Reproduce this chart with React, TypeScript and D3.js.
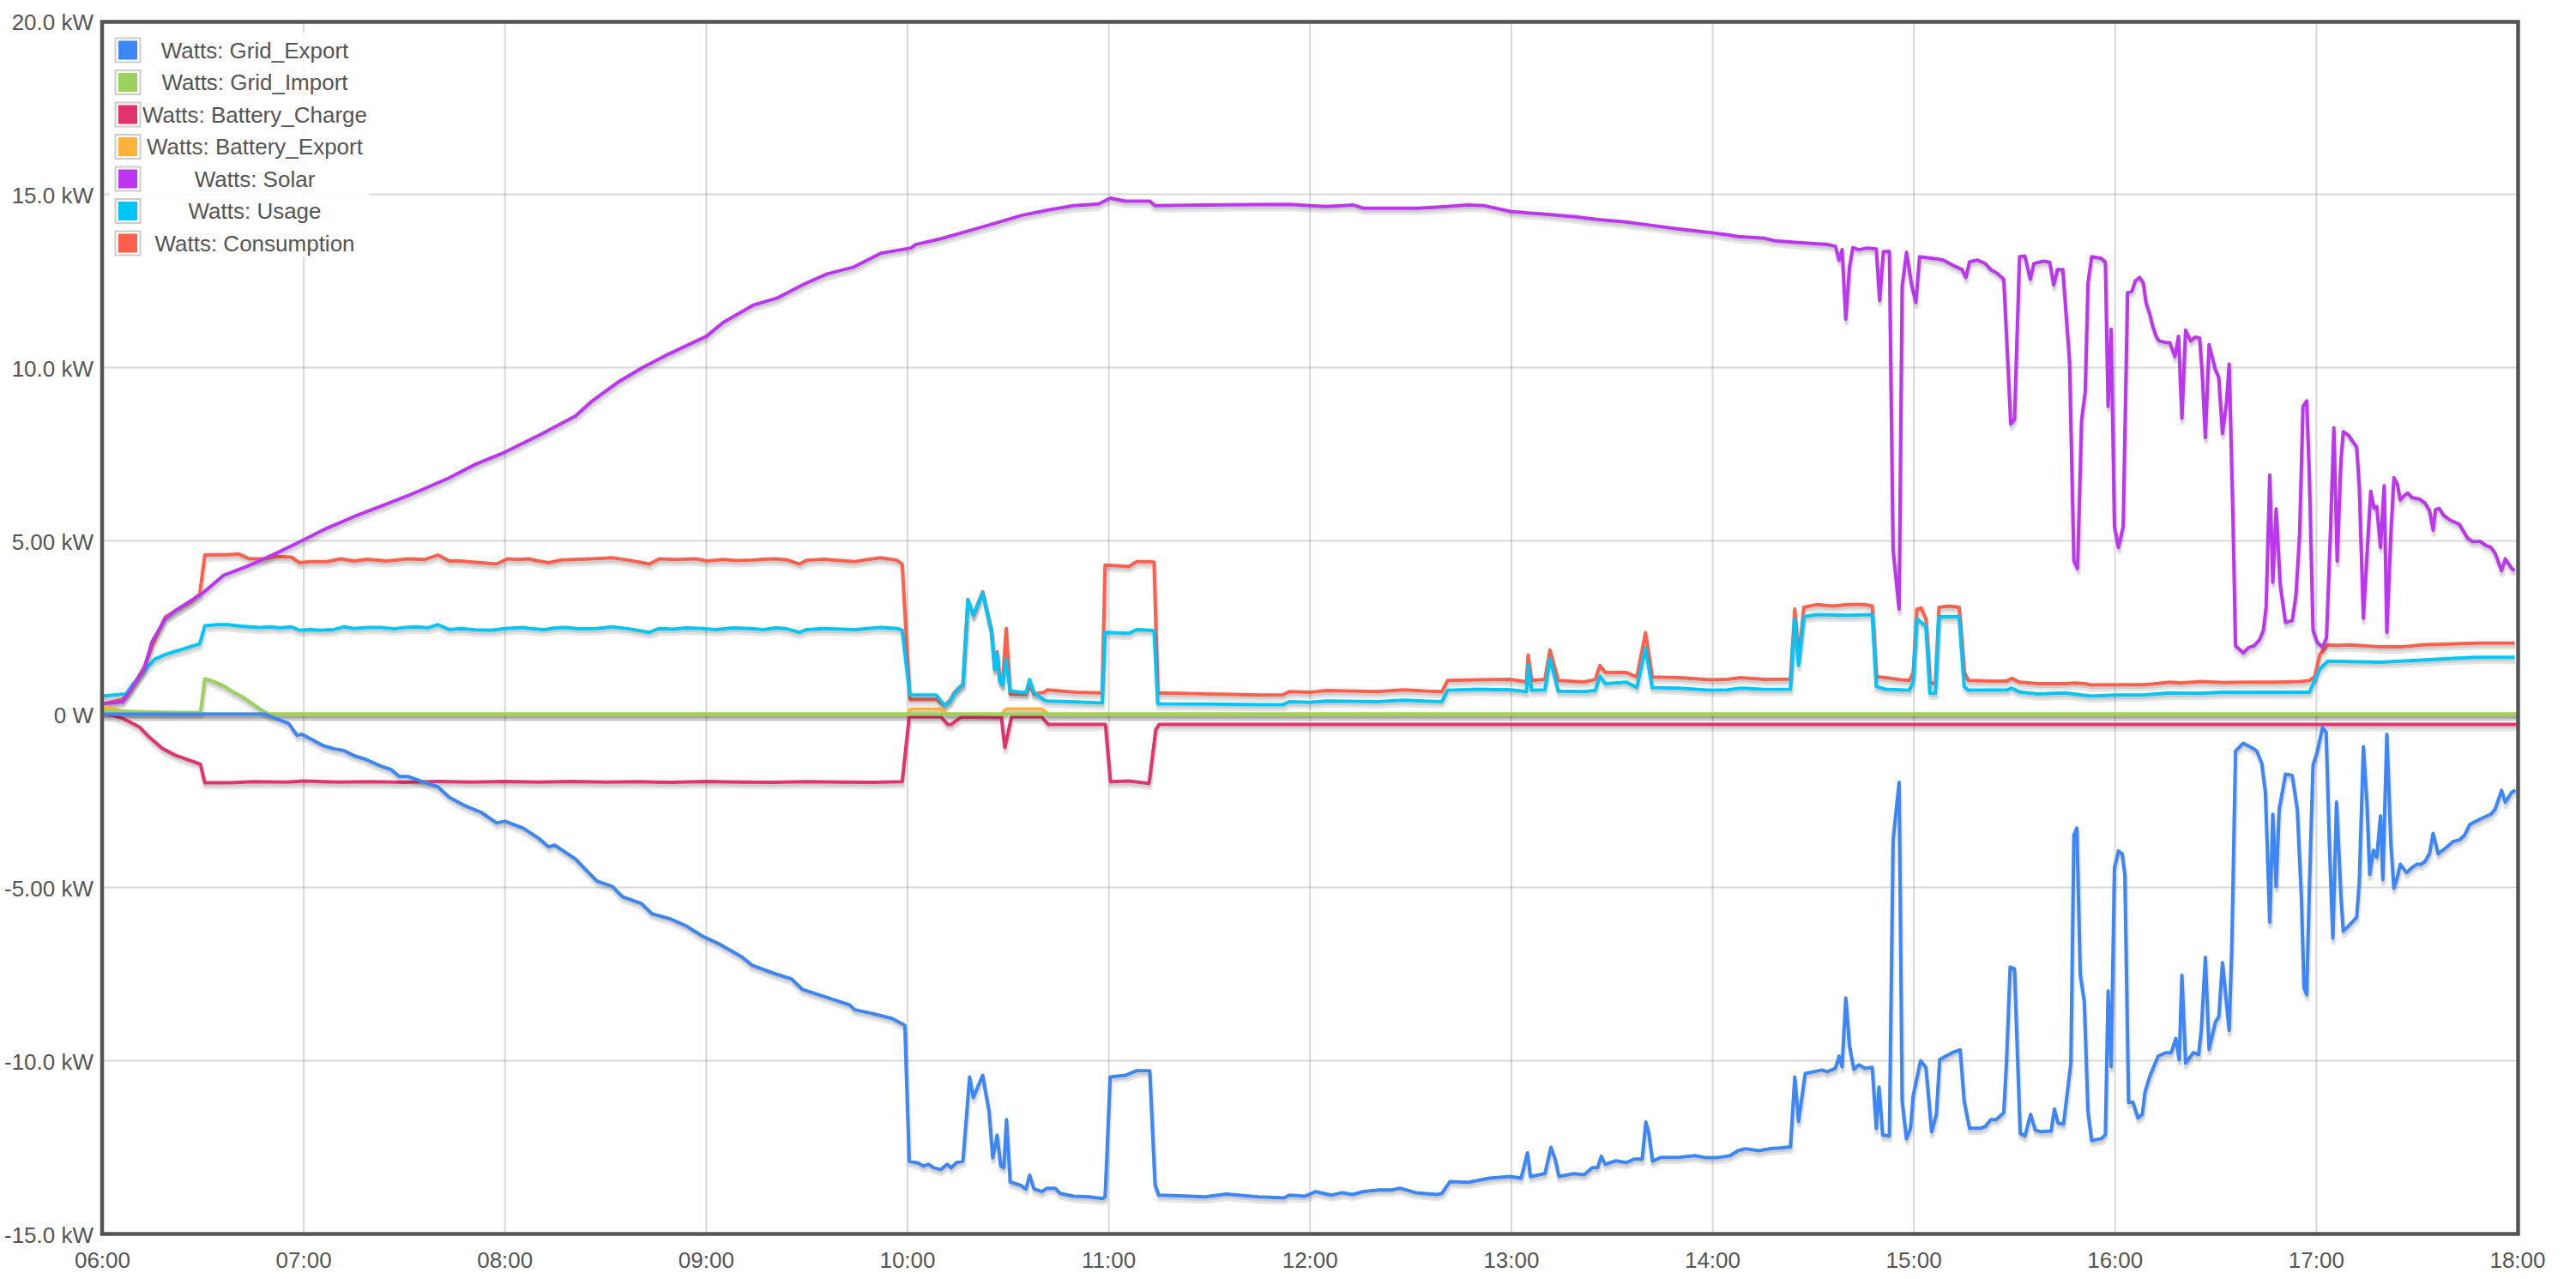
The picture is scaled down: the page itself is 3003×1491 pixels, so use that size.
import React from "react";
import * as d3 from "d3";

type Pt = [string, number];

const SERIES_NAMES = [
  "Watts: Grid_Export",
  "Watts: Grid_Import",
  "Watts: Battery_Charge",
  "Watts: Battery_Export",
  "Watts: Solar",
  "Watts: Usage",
  "Watts: Consumption",
];
const SERIES_COLORS = ["#3d86f8", "#9bd15d", "#e2336f", "#ffb23c", "#bc36f0", "#00c5f9", "#ff5f4c"];

const X_TICKS = ["06:00", "07:00", "08:00", "09:00", "10:00", "11:00", "12:00", "13:00", "14:00", "15:00", "16:00", "17:00", "18:00"];
const Y_TICKS = [-15, -10, -5, 0, 5, 10, 15, 20];
const Y_TICK_LABELS = ["-15.0 kW", "-10.0 kW", "-5.00 kW", "0 W", "5.00 kW", "10.0 kW", "15.0 kW", "20.0 kW"];

// values in kW, times "HH:MM(.m)"
const GRID_EXPORT: Pt[] = [
  ["06:00", 0], ["06:48.5", 0], ["06:51", -0.1], ["06:55.5", -0.27], ["06:58", -0.61], ["06:59.5", -0.58],
  ["07:05.8", -0.91], ["07:09", -1.0], ["07:12", -1.05], ["07:15", -1.2], ["07:18.3", -1.3], ["07:23", -1.5],
  ["07:26", -1.6], ["07:28.5", -1.8], ["07:31", -1.8], ["07:37", -2.0], ["07:40", -2.1], ["07:43.4", -2.4],
  ["07:48", -2.64], ["07:53", -2.84], ["07:57.5", -3.14], ["08:00", -3.09], ["08:05.4", -3.29], ["08:10", -3.58],
  ["08:13", -3.83], ["08:14.8", -3.78], ["08:21", -4.18], ["08:24", -4.48], ["08:27.4", -4.82], ["08:32", -4.97],
  ["08:35", -5.27], ["08:40.7", -5.47], ["08:43.8", -5.76], ["08:49.3", -5.91], ["08:54", -6.11], ["08:58.7", -6.4],
  ["09:04.2", -6.65], ["09:10.5", -7.0], ["09:13.7", -7.25], ["09:20.7", -7.5], ["09:25.4", -7.64], ["09:28.6", -7.94],
  ["09:36.4", -8.19], ["09:42.7", -8.39], ["09:44.3", -8.53], ["09:49", -8.63], ["09:55.3", -8.78], ["09:59.2", -8.98],
  ["10:00.5", -12.9], ["10:03.1", -12.95], ["10:04.7", -13.04], ["10:06.3", -12.99], ["10:07.8", -13.09], ["10:09.9", -13.14],
  ["10:11.8", -12.99], ["10:13", -13.09], ["10:14.6", -12.94], ["10:16.5", -12.9], ["10:18.5", -10.47], ["10:19.6", -11.06],
  ["10:22.4", -10.42], ["10:24.3", -11.46], ["10:25.4", -12.8], ["10:26.7", -12.15], ["10:27.8", -13.04], ["10:28.7", -13.09],
  ["10:29.5", -11.7], ["10:30.6", -13.5], ["10:33.8", -13.6], ["10:35.3", -13.7], ["10:36.4", -13.3], ["10:37.7", -13.7],
  ["10:40", -13.78], ["10:41.6", -13.68], ["10:44", -13.68], ["10:45.5", -13.83], ["10:49.5", -13.91], ["10:54.2", -13.93],
  ["10:58.1", -13.98], ["10:58.9", -13.93], ["11:00.4", -10.47], ["11:05.1", -10.42], ["11:08.3", -10.29], ["11:12.2", -10.29],
  ["11:13.8", -13.58], ["11:14.9", -13.88], ["11:20.8", -13.9], ["11:28.7", -13.93], ["11:35", -13.85], ["11:44.4", -13.93],
  ["11:52.2", -13.96], ["11:53.8", -13.88], ["11:58.5", -13.91], ["12:01.7", -13.78], ["12:06.4", -13.88], ["12:09.5", -13.81],
  ["12:12.7", -13.86], ["12:15.8", -13.78], ["12:20.5", -13.73], ["12:24.4", -13.73], ["12:26.8", -13.68], ["12:31.5", -13.81],
  ["12:37.8", -13.86], ["12:39.3", -13.83], ["12:41.7", -13.49], ["12:47.2", -13.51], ["12:53.5", -13.39], ["12:59.7", -13.34],
  ["13:02.9", -13.39], ["13:04.8", -12.66], ["13:05.7", -13.34], ["13:10", -13.26], ["13:11.8", -12.5], ["13:13.1", -12.85],
  ["13:14.2", -13.34], ["13:18.6", -13.26], ["13:21.7", -13.29], ["13:24.1", -13.09], ["13:25.7", -13.09], ["13:26.8", -12.76],
  ["13:28", -12.99], ["13:31.1", -12.89], ["13:34.3", -12.94], ["13:36.6", -12.84], ["13:39", -12.84], ["13:40.1", -11.77],
  ["13:40.9", -12.05], ["13:42.1", -12.9], ["13:44.5", -12.79], ["13:50", -12.79], ["13:54.7", -12.74], ["13:58.1", -12.8],
  ["14:01.3", -12.8], ["14:05.2", -12.74], ["14:07.5", -12.6], ["14:09.9", -12.54], ["14:13.8", -12.6], ["14:17", -12.54],
  ["14:20.1", -12.52], ["14:23.2", -12.49], ["14:24.5", -10.47], ["14:25.6", -11.75], ["14:27.6", -10.37], ["14:32.7", -10.27],
  ["14:34.2", -10.32], ["14:36.6", -10.22], ["14:37.7", -9.87], ["14:38.6", -10.17], ["14:39.7", -8.19], ["14:40.8", -9.57],
  ["14:42.1", -10.25], ["14:43.6", -10.12], ["14:45.5", -10.22], ["14:47.6", -10.19], ["14:48.8", -11.95], ["14:49.6", -10.76],
  ["14:50.7", -12.15], ["14:52.7", -12.17], ["14:53.8", -3.63], ["14:55.6", -1.97], ["14:56.5", -11.16], ["14:57.8", -12.25],
  ["14:59", -11.95], ["14:59.8", -11.0], ["15:02", -10.0], ["15:03.6", -10.2], ["15:05.3", -12.05], ["15:06.7", -11.55],
  ["15:07.7", -9.97], ["15:09.5", -9.87], ["15:11.9", -9.75], ["15:13.8", -9.69], ["15:15", -11.16], ["15:16.6", -11.95],
  ["15:19.7", -11.95], ["15:21.3", -11.9], ["15:22.9", -11.7], ["15:24.5", -11.7], ["15:26.8", -11.5], ["15:27.6", -10.07],
  ["15:28.7", -7.3], ["15:30", -7.35], ["15:31.7", -12.1], ["15:33.1", -12.17], ["15:34.8", -11.55], ["15:36.2", -12.0],
  ["15:37.8", -12.05], ["15:40.9", -12.03], ["15:41.9", -11.4], ["15:43", -11.8], ["15:44.6", -11.83], ["15:46.8", -10.07],
  ["15:47.7", -3.49], ["15:48.6", -3.29], ["15:49.6", -7.5], ["15:50.8", -8.29], ["15:51.9", -11.46], ["15:53", -12.3],
  ["15:55.9", -12.25], ["15:57.1", -12.13], ["15:57.9", -7.99], ["15:58.8", -10.17], ["15:59.8", -4.43], ["16:01", -3.95],
  ["16:02.1", -4.03], ["16:02.9", -4.62], ["16:04", -11.2], ["16:05.3", -11.2], ["16:06.8", -11.65], ["16:08.1", -11.55],
  ["16:08.9", -10.9], ["16:10.3", -10.46], ["16:12.8", -9.87], ["16:15.2", -9.77], ["16:16.7", -9.77], ["16:18.1", -9.36],
  ["16:19.1", -9.97], ["16:19.9", -7.54], ["16:21", -10.07], ["16:23.3", -9.77], ["16:24.9", -9.82], ["16:25.7", -9.08],
  ["16:26.9", -7.02], ["16:28", -9.67], ["16:29.9", -8.88], ["16:30.9", -8.73], ["16:32", -7.17], ["16:34", -9.13],
  ["16:34.8", -6.6], ["16:35.9", -1.06], ["16:38.2", -0.84], ["16:40.6", -0.96], ["16:42.2", -1.06], ["16:43.7", -1.41],
  ["16:44.8", -2.25], ["16:46.1", -6.0], ["16:47", -2.89], ["16:48", -4.97], ["16:48.9", -2.74], ["16:50.8", -1.73],
  ["16:52.8", -1.77], ["16:54.3", -2.74], ["16:55.5", -5.22], ["16:56.3", -7.9], ["16:57.1", -8.09], ["16:57.9", -5.02],
  ["16:59", -1.46], ["17:00.2", -1.11], ["17:01.8", -0.39], ["17:02.9", -0.52], ["17:03.8", -3.53], ["17:04.9", -6.46],
  ["17:06", -2.54], ["17:07.3", -5.22], ["17:08", -6.26], ["17:09.6", -6.11], ["17:12", -5.86], ["17:12.8", -4.82],
  ["17:14", -0.94], ["17:15.1", -2.64], ["17:15.9", -4.62], ["17:17", -3.93], ["17:18", -4.13], ["17:19.1", -2.94],
  ["17:19.8", -4.77], ["17:21", -0.58], ["17:22.2", -3.73], ["17:23.1", -5.02], ["17:24.1", -4.72], ["17:25", -4.33],
  ["17:26.9", -4.57], ["17:28.5", -4.43], ["17:30", -4.33], ["17:31.3", -4.33], ["17:32.4", -4.25], ["17:33.7", -4.03],
  ["17:34.8", -3.44], ["17:36.3", -4.03], ["17:38.7", -3.85], ["17:40.7", -3.68], ["17:42.6", -3.63], ["17:44.2", -3.49],
  ["17:45.7", -3.19], ["17:47.6", -3.09], ["17:49.7", -2.99], ["17:52", -2.89], ["17:53.3", -2.74], ["17:55.2", -2.2],
  ["17:56.3", -2.54], ["17:58.3", -2.25], ["17:59.4", -2.2],
];

const GRID_IMPORT: Pt[] = [
  ["06:00", 0.1], ["06:07", 0.08], ["06:14", 0.06], ["06:22", 0.05], ["06:29.2", 0.05], ["06:30.5", 1.02],
  ["06:33", 0.95], ["06:36", 0.82], ["06:39", 0.64], ["06:42", 0.48], ["06:45.4", 0.25], ["06:48", 0.08],
  ["06:50", 0], ["18:00", 0],
];

const BATTERY_CHARGE: Pt[] = [
  ["06:00", 0], ["06:03", -0.04], ["06:06", -0.12], ["06:11", -0.37], ["06:14", -0.67], ["06:18", -1.0],
  ["06:22", -1.2], ["06:28", -1.4], ["06:29.2", -1.45], ["06:30.5", -1.98], ["06:38", -1.98], ["06:45", -1.95],
  ["06:55", -1.96], ["07:00", -1.93], ["07:10", -1.96], ["07:20", -1.95], ["07:30", -1.97], ["07:40", -1.94],
  ["07:50", -1.96], ["08:00", -1.94], ["08:10", -1.96], ["08:20", -1.94], ["08:30", -1.96], ["08:40", -1.95],
  ["08:50", -1.97], ["09:00", -1.94], ["09:10", -1.96], ["09:20", -1.97], ["09:30", -1.95], ["09:40", -1.96],
  ["09:50", -1.97], ["09:58.4", -1.95], ["10:00.5", -0.08], ["10:10", -0.08], ["10:12", -0.3], ["10:13", -0.3],
  ["10:16", -0.08], ["10:28", -0.1], ["10:29", -0.96], ["10:31", -0.08], ["10:40", -0.08], ["10:42", -0.3],
  ["10:59", -0.3], ["11:00.5", -1.95], ["11:06", -1.93], ["11:12", -2.0], ["11:14", -0.45], ["11:15", -0.3],
  ["18:00", -0.3],
];

const BATTERY_EXPORT: Pt[] = [
  ["06:00", 0.22], ["06:04", 0.14], ["06:08", 0], ["10:00", 0], ["10:01", 0.15], ["10:10", 0.15], ["10:12", 0],
  ["10:28", 0], ["10:29.5", 0.15], ["10:40", 0.15], ["10:42", 0], ["18:00", 0],
];

const SOLAR: Pt[] = [
  ["06:00", 0.3], ["06:06", 0.35], ["06:08.5", 0.72], ["06:12.4", 1.3], ["06:14.8", 2.1], ["06:18.7", 2.75],
  ["06:22", 3.0], ["06:30", 3.5], ["06:36", 4.0], ["06:44", 4.3], ["06:52", 4.65], ["07:00", 5.03],
  ["07:07", 5.37], ["07:15", 5.7], ["07:23", 6.0], ["07:31", 6.3], ["07:43", 6.8], ["07:51", 7.2],
  ["08:00", 7.56], ["08:10", 8.04], ["08:21", 8.6], ["08:26", 9.04], ["08:34", 9.6], ["08:41", 10.0],
  ["08:49", 10.4], ["09:00", 10.9], ["09:05", 11.3], ["09:14", 11.8], ["09:21", 12.0], ["09:29", 12.4],
  ["09:36", 12.7], ["09:44", 12.9], ["09:52", 13.3], ["10:01", 13.45], ["10:02.4", 13.55], ["10:10", 13.72],
  ["10:18", 13.94], ["10:26", 14.16], ["10:34", 14.39], ["10:42", 14.55], ["10:49.5", 14.67], ["10:57", 14.72],
  ["11:00.4", 14.89], ["11:05", 14.8], ["11:12.2", 14.8], ["11:13.8", 14.67], ["11:28.7", 14.69], ["11:44", 14.7],
  ["11:53.8", 14.71], ["12:00", 14.67], ["12:05", 14.65], ["12:13", 14.69], ["12:15.8", 14.6], ["12:24", 14.6],
  ["12:32", 14.6], ["12:40", 14.64], ["12:47", 14.69], ["12:52", 14.67], ["13:00", 14.5], ["13:11", 14.42],
  ["13:19", 14.35], ["13:26", 14.27], ["13:34", 14.2], ["13:42", 14.1], ["13:50", 14.0], ["13:59", 13.9],
  ["14:04.4", 13.83], ["14:07.5", 13.78], ["14:10.7", 13.76], ["14:15.4", 13.73], ["14:18.5", 13.66], ["14:26.4", 13.6],
  ["14:34.2", 13.55], ["14:36.6", 13.5], ["14:37.7", 13.1], ["14:38.6", 13.4], ["14:39.7", 11.4], ["14:40.8", 12.9],
  ["14:41.8", 13.46], ["14:43.6", 13.4], ["14:46", 13.45], ["14:48.8", 13.42], ["14:49.8", 11.94], ["14:50.9", 13.35],
  ["14:52.7", 13.35], ["14:53.8", 4.75], ["14:55.6", 3.03], ["14:56.5", 12.33], ["14:57.8", 13.33], ["14:59.3", 12.4],
  ["15:00.6", 11.88], ["15:01.7", 13.2], ["15:04", 13.17], ["15:07.2", 13.13], ["15:08.8", 13.1], ["15:11.9", 12.94],
  ["15:14.3", 12.83], ["15:15.5", 12.6], ["15:16.6", 13.05], ["15:19", 13.1], ["15:21.3", 13.0], ["15:22.9", 12.83],
  ["15:24.8", 12.72], ["15:26.8", 12.55], ["15:28.9", 8.37], ["15:30", 8.5], ["15:31.5", 13.2], ["15:33.1", 13.22],
  ["15:34.7", 12.55], ["15:35.8", 13.0], ["15:38.6", 13.07], ["15:40.5", 13.04], ["15:41.7", 12.38], ["15:42.8", 12.83],
  ["15:44.4", 12.83], ["15:46.4", 10.21], ["15:47.7", 4.42], ["15:48.8", 4.2], ["15:50", 8.49], ["15:51.1", 9.32],
  ["15:51.9", 12.44], ["15:53", 13.2], ["15:55.9", 13.15], ["15:57.1", 13.04], ["15:57.9", 8.88], ["15:58.8", 11.1],
  ["15:59.8", 5.42], ["16:01", 4.81], ["16:02.4", 5.42], ["16:03.7", 12.16], ["16:05", 12.2], ["16:06", 12.5],
  ["16:07.3", 12.6], ["16:08.4", 12.44], ["16:09.2", 11.88], ["16:10.3", 11.55], ["16:11.2", 11.2], ["16:12.3", 10.88],
  ["16:13.1", 10.77], ["16:15.2", 10.72], ["16:16.3", 10.72], ["16:17.8", 10.32], ["16:18.9", 10.9], ["16:19.9", 8.54],
  ["16:21", 11.08], ["16:22.5", 10.77], ["16:23.8", 10.88], ["16:25.2", 10.85], ["16:26", 9.77], ["16:26.9", 7.98],
  ["16:28", 10.66], ["16:29.9", 9.94], ["16:30.9", 9.72], ["16:32", 8.1], ["16:33.2", 9.0], ["16:34", 10.1],
  ["16:35.1", 5.76], ["16:35.9", 1.97], ["16:38.2", 1.77], ["16:39.8", 1.92], ["16:41.4", 1.97], ["16:43", 2.14],
  ["16:44.2", 2.42], ["16:45", 3.08], ["16:46.1", 6.9], ["16:47", 3.81], ["16:48", 5.92], ["16:49.2", 3.75],
  ["16:50.8", 2.64], ["16:52.8", 2.7], ["16:53.9", 3.42], ["16:55", 5.2], ["16:56", 8.88], ["16:57.1", 9.04],
  ["16:57.9", 6.87], ["16:59", 2.42], ["17:00.2", 2.08], ["17:01.8", 1.92], ["17:03", 2.2], ["17:04.2", 5.3],
  ["17:05.2", 8.26], ["17:06.2", 4.42], ["17:07.3", 7.3], ["17:08", 8.15], ["17:09.6", 8.04], ["17:12", 7.71],
  ["17:12.8", 6.54], ["17:14", 2.77], ["17:15.1", 4.64], ["17:16.2", 6.43], ["17:17.2", 5.94], ["17:18", 5.99],
  ["17:19.1", 4.81], ["17:20.2", 6.59], ["17:21", 2.36], ["17:22.2", 5.2], ["17:23.1", 6.82], ["17:24.1", 6.65],
  ["17:25", 6.18], ["17:26.1", 6.3], ["17:27.2", 6.38], ["17:28.5", 6.25], ["17:30.8", 6.2], ["17:32.4", 6.09],
  ["17:33.7", 5.88], ["17:34.8", 5.31], ["17:35.5", 5.9], ["17:36.6", 5.94], ["17:37.9", 5.74], ["17:39.8", 5.6],
  ["17:42.6", 5.48], ["17:45", 5.09], ["17:46.5", 4.98], ["17:48.9", 4.98], ["17:50.5", 4.87], ["17:52", 4.81],
  ["17:53.3", 4.64], ["17:55.2", 4.14], ["17:56.3", 4.48], ["17:58.3", 4.2], ["17:59.1", 4.14],
];

const USAGE: Pt[] = [
  ["06:00", 0.52], ["06:07", 0.58], ["06:09", 0.86], ["06:12.4", 1.25], ["06:15.5", 1.58], ["06:18.7", 1.72],
  ["06:23.4", 1.86], ["06:29", 2.03], ["06:30.5", 2.55], ["06:34", 2.58], ["06:37.5", 2.58], ["06:40", 2.55],
  ["06:43.8", 2.52], ["06:47", 2.5], ["06:50", 2.52], ["06:53", 2.49], ["06:56.3", 2.52], ["06:58.7", 2.42],
  ["07:02", 2.44], ["07:05", 2.42], ["07:09", 2.44], ["07:12", 2.52], ["07:15", 2.47], ["07:19", 2.5],
  ["07:23", 2.5], ["07:27", 2.46], ["07:30", 2.5], ["07:34", 2.52], ["07:37", 2.49], ["07:40", 2.58],
  ["07:43.4", 2.44], ["07:47", 2.47], ["07:51", 2.43], ["07:56", 2.42], ["08:00", 2.47], ["08:05.4", 2.5],
  ["08:08", 2.46], ["08:11.7", 2.44], ["08:15", 2.49], ["08:18", 2.5], ["08:22", 2.46], ["08:27.4", 2.47],
  ["08:32", 2.52], ["08:37", 2.46], ["08:43", 2.36], ["08:46", 2.47], ["08:50", 2.45], ["08:54", 2.49],
  ["08:58.7", 2.47], ["09:03", 2.44], ["09:08", 2.49], ["09:13", 2.47], ["09:17", 2.44], ["09:20.7", 2.49],
  ["09:24", 2.46], ["09:27.8", 2.36], ["09:30", 2.44], ["09:35", 2.47], ["09:40", 2.45], ["09:44.3", 2.44],
  ["09:48", 2.47], ["09:52", 2.5], ["09:56.8", 2.47], ["09:58.4", 2.42], ["10:00.7", 0.55], ["10:08.6", 0.55],
  ["10:11", 0.25], ["10:12.6", 0.35], ["10:14", 0.6], ["10:15.7", 0.78], ["10:16.5", 0.85], ["10:18", 3.3],
  ["10:19.6", 2.86], ["10:22.4", 3.5], ["10:25", 2.4], ["10:26", 1.3], ["10:26.7", 1.75], ["10:27.5", 0.95],
  ["10:28.3", 0.85], ["10:29.4", 1.58], ["10:30.6", 0.66], ["10:35.3", 0.62], ["10:36.4", 1.0], ["10:37.7", 0.62],
  ["10:40.8", 0.4], ["10:41.6", 0.38], ["10:50", 0.35], ["10:58", 0.32], ["10:58.9", 2.36], ["11:06", 2.33],
  ["11:08.3", 2.44], ["11:12.2", 2.42], ["11:13.5", 2.4], ["11:14.6", 0.3], ["11:30", 0.29], ["11:45", 0.27],
  ["11:52", 0.27], ["11:53.8", 0.36], ["12:00", 0.34], ["12:05", 0.38], ["12:20", 0.36], ["12:28", 0.4],
  ["12:35", 0.37], ["12:39.3", 0.36], ["12:41", 0.69], ["12:50", 0.72], ["13:00", 0.7], ["13:04.5", 0.65],
  ["13:05", 1.41], ["13:06", 0.69], ["13:10", 0.7], ["13:11.5", 1.6], ["13:14", 0.66], ["13:21.7", 0.65],
  ["13:25", 0.68], ["13:26.4", 1.1], ["13:28", 0.88], ["13:34.3", 0.92], ["13:37.4", 0.77], ["13:40", 1.9],
  ["13:42", 0.77], ["13:50", 0.75], ["13:59.4", 0.69], ["14:04.4", 0.7], ["14:08.4", 0.75], ["14:15.4", 0.71],
  ["14:23.2", 0.72], ["14:24.5", 2.75], ["14:25.6", 1.41], ["14:27.2", 2.81], ["14:31", 2.87], ["14:40.5", 2.85],
  ["14:47.6", 2.87], ["14:48.8", 0.8], ["14:51.5", 0.72], ["14:58.6", 0.69], ["14:59.8", 0.92], ["15:00.9", 2.75],
  ["15:03.6", 2.53], ["15:04.8", 0.6], ["15:06.4", 0.6], ["15:07.5", 2.81], ["15:13.5", 2.81], ["15:15", 0.8],
  ["15:16.3", 0.69], ["15:27.6", 0.69], ["15:29.2", 0.75], ["15:31.5", 0.64], ["15:37", 0.58], ["15:45", 0.61],
  ["15:52.7", 0.52], ["16:00.6", 0.55], ["16:08.4", 0.55], ["16:16.3", 0.61], ["16:25.7", 0.6], ["16:32", 0.63],
  ["16:47.6", 0.63], ["16:57.9", 0.63], ["17:01", 1.3], ["17:03.4", 1.53], ["17:19.1", 1.5], ["17:34.8", 1.58],
  ["17:47.3", 1.64], ["17:59.1", 1.64],
];

const CONSUMPTION: Pt[] = [
  ["06:00", 0.3], ["06:03", 0.36], ["06:06", 0.42], ["06:08.5", 0.72], ["06:12.4", 1.36], ["06:15", 2.03],
  ["06:18.7", 2.8], ["06:22", 3.0], ["06:26.5", 3.25], ["06:29", 3.47], ["06:30.5", 4.59], ["06:34", 4.6],
  ["06:37.5", 4.6], ["06:40.6", 4.62], ["06:43.8", 4.48], ["06:48.5", 4.48], ["06:51.6", 4.55], ["06:56.3", 4.53],
  ["06:58.7", 4.37], ["07:02", 4.4], ["07:07", 4.4], ["07:11", 4.48], ["07:15", 4.42], ["07:19", 4.47],
  ["07:24.6", 4.42], ["07:28", 4.45], ["07:31", 4.48], ["07:36", 4.46], ["07:40", 4.59], ["07:43.4", 4.42],
  ["07:46.6", 4.42], ["07:51", 4.38], ["07:57.5", 4.33], ["08:00.7", 4.48], ["08:04", 4.46], ["08:07", 4.48],
  ["08:10", 4.42], ["08:13", 4.37], ["08:17", 4.45], ["08:21", 4.46], ["08:25.8", 4.48], ["08:32", 4.51],
  ["08:37", 4.44], ["08:43", 4.33], ["08:46", 4.48], ["08:51", 4.46], ["08:57", 4.48], ["09:00.3", 4.42],
  ["09:05", 4.46], ["09:09", 4.43], ["09:13", 4.44], ["09:17", 4.47], ["09:20.7", 4.48], ["09:24", 4.45],
  ["09:27.8", 4.33], ["09:30", 4.44], ["09:35", 4.47], ["09:40", 4.43], ["09:44.3", 4.4], ["09:48", 4.46],
  ["09:52", 4.51], ["09:56.8", 4.44], ["09:58.4", 4.33], ["10:00.7", 0.43], ["10:08.6", 0.43], ["10:11", 0.25],
  ["10:12.6", 0.4], ["10:14", 0.63], ["10:15.7", 0.8], ["10:16.5", 0.85], ["10:18", 3.31], ["10:19.6", 2.86],
  ["10:22.4", 3.53], ["10:25", 2.42], ["10:26", 1.3], ["10:26.7", 1.8], ["10:27.5", 0.97], ["10:28.3", 0.86],
  ["10:29.4", 2.47], ["10:30.6", 0.58], ["10:35.3", 0.58], ["10:36.4", 0.86], ["10:37.7", 0.58], ["10:40.8", 0.63],
  ["10:41.6", 0.7], ["10:50", 0.63], ["10:58", 0.61], ["10:58.9", 4.3], ["11:06", 4.26], ["11:08.3", 4.4],
  ["11:12.2", 4.4], ["11:13.5", 4.38], ["11:14.6", 0.61], ["11:30", 0.58], ["11:45", 0.55], ["11:52", 0.56],
  ["11:53.8", 0.65], ["12:00", 0.63], ["12:05", 0.68], ["12:20", 0.65], ["12:28", 0.7], ["12:35", 0.66],
  ["12:39.3", 0.65], ["12:41", 0.97], ["12:50", 0.99], ["13:00", 1.0], ["13:04.5", 0.93], ["13:05", 1.7],
  ["13:06", 0.97], ["13:10", 1.0], ["13:11.5", 1.85], ["13:14", 0.97], ["13:21.7", 0.93], ["13:25", 1.0],
  ["13:26.4", 1.4], ["13:28", 1.2], ["13:34.3", 1.2], ["13:37.4", 1.07], ["13:40", 2.35], ["13:42", 1.07],
  ["13:50", 1.05], ["13:59.4", 0.99], ["14:04.4", 1.0], ["14:08.4", 1.05], ["14:15.4", 1.0], ["14:23.2", 1.01],
  ["14:24.5", 3.03], ["14:25.6", 1.6], ["14:27.2", 3.08], ["14:31", 3.16], ["14:35.8", 3.12], ["14:40.5", 3.16],
  ["14:45.2", 3.16], ["14:47.6", 3.12], ["14:48.8", 1.08], ["14:51.5", 1.05], ["14:56.2", 0.99], ["14:58.6", 0.97],
  ["14:59.8", 1.2], ["15:00.9", 3.03], ["15:02.2", 3.06], ["15:03.6", 2.75], ["15:04.8", 0.9], ["15:06.4", 0.9],
  ["15:07.5", 3.08], ["15:10.3", 3.12], ["15:13.5", 3.08], ["15:15", 1.2], ["15:16.3", 0.97], ["15:23", 0.95],
  ["15:27.6", 0.95], ["15:29.2", 1.03], ["15:31.5", 0.92], ["15:37", 0.88], ["15:45", 0.88], ["15:48", 0.9],
  ["15:51", 0.88], ["15:52.7", 0.84], ["16:00.6", 0.85], ["16:08.4", 0.85], ["16:11.6", 0.87], ["16:16.3", 0.92],
  ["16:19.5", 0.9], ["16:25.7", 0.94], ["16:32", 0.91], ["16:40", 0.92], ["16:47.6", 0.92], ["16:55.4", 0.94],
  ["16:57.9", 0.97], ["16:59.5", 1.08], ["17:01", 1.72], ["17:03.4", 2.0], ["17:06.5", 1.98], ["17:09.6", 2.0],
  ["17:12.8", 1.98], ["17:19.1", 1.94], ["17:25.4", 1.94], ["17:31.6", 2.0], ["17:37.9", 2.02], ["17:47.3", 2.05],
  ["17:53.6", 2.05], ["17:59.1", 2.05],
];

const SERIES_DATA: Pt[][] = [GRID_EXPORT, GRID_IMPORT, BATTERY_CHARGE, BATTERY_EXPORT, SOLAR, USAGE, CONSUMPTION];
const DRAW_ORDER = [6, 5, 4, 3, 2, 1, 0];

function parseT(s: string): Date {
  const [h, m] = s.split(":");
  return new Date(2024, 0, 1, +h, 0, 0, Math.round(parseFloat(m) * 60000));
}

const FONT = "'Liberation Sans', Arial, Helvetica, sans-serif";
const TEXT = "#545454";

export default function App() {
  const W = 3003, H = 1491;
  const L = 119.5, R = 2935, T = 24.5, B = 1438.5;
  const x = d3.scaleTime().domain([parseT("06:00"), parseT("18:00")]).range([L, R]);
  const y = d3.scaleLinear().domain([-15, 20]).range([B, T]);
  const line = d3
    .line<Pt>()
    .x((d) => x(parseT(d[0])))
    .y((d) => y(d[1]));

  const lw = 4, sw = 6, ang = Math.PI / 18;
  const s1 = lw / 2 + sw / 2, s2 = lw / 2 + sw / 4;

  const legendRowY = (i: number) => 58.5 + i * 37.5;

  return (
    <svg width={W} height={H} style={{ position: "absolute", left: 0, top: 0, background: "#fff" }}>
      <defs>
        <clipPath id="plotclip">
          <rect x={L} y={T} width={R - L} height={B - T} />
        </clipPath>
      </defs>
      <rect x={0} y={0} width={W} height={H} fill="#fff" />
      {/* grid */}
      <g stroke="rgba(84,84,84,0.22)" strokeWidth={2}>
        {X_TICKS.map((t) => (
          <line key={t} x1={x(parseT(t))} x2={x(parseT(t))} y1={T} y2={B} />
        ))}
        {Y_TICKS.map((v) => (
          <line key={v} x1={L} x2={R} y1={y(v)} y2={y(v)} />
        ))}
      </g>
      {/* series */}
      <g clipPath="url(#plotclip)" fill="none" strokeLinejoin="round" strokeLinecap="butt">
        {DRAW_ORDER.map((i) => {
          const d = line(SERIES_DATA[i]) || "";
          return (
            <g key={i}>
              <path d={d} stroke="rgba(0,0,0,0.1)" strokeWidth={sw} transform={`translate(${Math.sin(ang) * s1},${Math.cos(ang) * s1})`} />
              <path d={d} stroke="rgba(0,0,0,0.1)" strokeWidth={sw / 2} transform={`translate(${Math.sin(ang) * s2},${Math.cos(ang) * s2})`} />
              <path d={d} stroke={SERIES_COLORS[i]} strokeWidth={lw} />
            </g>
          );
        })}
      </g>
      {/* border */}
      <rect x={L - 0.5} y={T + 1} width={R - L + 1} height={B - T - 1} fill="none" stroke={TEXT} strokeWidth={4.5} />
      {/* y labels */}
      <g fontFamily={FONT} fontSize={26} fill={TEXT} textAnchor="end">
        {Y_TICKS.map((v, i) => (
          <text key={v} x={109} y={y(v) + 10}>
            {Y_TICK_LABELS[i]}
          </text>
        ))}
      </g>
      {/* x labels */}
      <g fontFamily={FONT} fontSize={26} fill={TEXT} textAnchor="middle">
        {X_TICKS.map((t) => (
          <text key={t} x={x(parseT(t))} y={1478}>
            {t}
          </text>
        ))}
      </g>
      {/* legend */}
      <rect x={128} y={38} width={302} height={262} fill="#fff" opacity={0.85} />
      <g fontFamily={FONT} fontSize={26} fill={TEXT}>
        {SERIES_NAMES.map((name, i) => {
          const cy = legendRowY(i);
          return (
            <g key={name}>
              <rect x={134.5} y={cy - 14} width={29} height={28} fill="#fff" stroke="#ccc" strokeWidth={2} />
              <rect x={138} y={cy - 11} width={22} height={22} fill={SERIES_COLORS[i]} />
              <text x={297} y={cy + 9} textAnchor="middle">
                {name}
              </text>
            </g>
          );
        })}
      </g>
    </svg>
  );
}
